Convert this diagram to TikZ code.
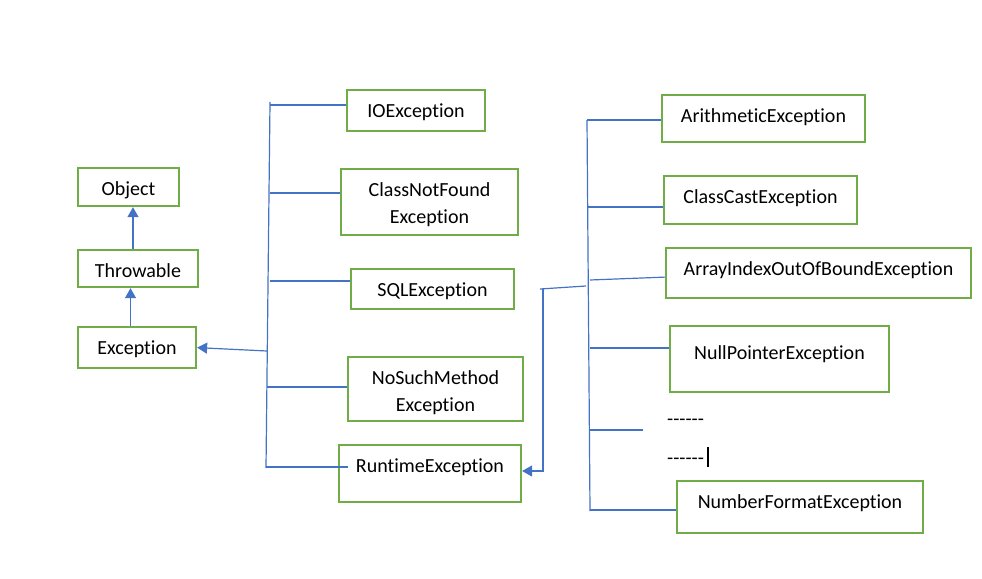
\documentclass[tikz,border=0pt]{standalone}
\usepackage{fontspec}
\setmainfont{Carlito}[Ligatures={TeX,NoCommon}]
\usetikzlibrary{arrows.meta}
\definecolor{boxgreen}{HTML}{70AD47}
\definecolor{lineblue}{HTML}{4472C4}
\tikzset{
  box/.style={draw=boxgreen, line width=2.2pt, inner sep=0pt, anchor=north,
    text height=27pt, font=\fontsize{20}{27}\selectfont},
  conn/.style={draw=lineblue, line width=1.2pt},
  arr/.style={conn, -{Triangle[width=11pt,length=10pt]}},
  plaintext/.style={inner sep=0pt, font=\fontsize{20}{27}\selectfont}
}
\newcommand{\twol}[2]{\begin{tabular}[t]{@{}c@{}}#1\\#2\end{tabular}}
\newcommand{\hy}{\mbox{-}\mbox{-}\mbox{-}\mbox{-}\mbox{-}\mbox{-}}
\begin{document}
\begin{tikzpicture}[x=1pt,y=-1pt]
\useasboundingbox (0,0) rectangle (982,578);
% left column
\node[box, minimum width=101pt, text depth=11pt] (obj) at (128.5,167) {Object};
\node[box, minimum width=120pt, text depth=10pt] (thr) at (138,249) {Throwable};
\node[box, minimum width=118pt, text depth=14pt] (exc) at (137,326) {Exception};
% middle column
\node[box, minimum width=138pt, text depth=14pt] (io) at (416,89) {IOException};
\node[box, minimum width=177pt, text depth=39pt] (cnf) at (429.5,168) {\twol{ClassNotFound}{Exception}};
\node[box, minimum width=163pt, text depth=13pt] (sql) at (432.5,268) {SQLException};
\node[box, minimum width=175pt, text depth=37pt] (nsm) at (435.5,356) {\twol{NoSuchMethod}{Exception}};
\node[box, minimum width=182pt, text depth=30pt] (rt) at (430,444) {RuntimeException};
% right column
\node[box, minimum width=203pt, text depth=20pt] (ar) at (763.5,94) {ArithmeticException};
\node[box, minimum width=193pt, text depth=21pt] (cc) at (760.5,175) {ClassCastException};
\node[box, minimum width=305pt, text depth=23pt] (ai) at (818.5,247) {ArrayIndexOutOfBoundException};
\node[box, minimum width=219pt, text height=33pt, text depth=33pt] (np) at (779.5,325) {NullPointerException};
\node[box, minimum width=246pt, text depth=25pt] (nf) at (800,480) {NumberFormatException};
\node[plaintext, anchor=base west] (d1) at (667,425) {\hy};
\node[plaintext, anchor=base west] (d2) at (667,464) {\hy};
\coordinate (cur1) at (708,447);
\coordinate (cur2) at (708,467);
\draw[black, line width=1.1pt] (cur1) -- (cur2);
% left hierarchy arrows
\coordinate (ax1) at (133,0);
\coordinate (ax2) at (130.5,0);
\draw[arr] (thr.north -| ax1) -- (obj.south -| ax1);
\draw[arr] (exc.north -| ax2) -- (thr.south -| ax2);
% left trunk
\coordinate (lt) at (270,102);
\coordinate (lb) at (266,468);
\draw[conn] (lt) -- (lb);
\coordinate (b1) at (270,105);
\coordinate (b2) at (270,193);
\coordinate (b3) at (270,281);
\coordinate (b4) at (267,387);
\coordinate (b5) at (266,467);
\coordinate (b5e) at (348,467);
\coordinate (b6) at (267,351);
\draw[conn] (b1) -- (b1 -| io.west);
\draw[conn] (b2) -- (b2 -| cnf.west);
\draw[conn] (b3) -- (b3 -| sql.west);
\draw[conn] (b4) -- (b4 -| nsm.west);
\draw[conn] (b5) -- (b5e);
\draw[arr] (b6) -- (exc.east);
% middle connector to RuntimeException
\coordinate (m0) at (586,286);
\coordinate (m1) at (540,289);
\coordinate (m2) at (543,289);
\coordinate (m3) at (543,471);
\draw[conn] (m0) -- (m1);
\draw[arr] (m2) -- (m3) -- (m3 -| rt.east);
% right trunk
\coordinate (rtop) at (587,120);
\coordinate (rbot) at (590,511);
\draw[conn] (rtop) -- (rbot);
\coordinate (r1) at (587,120);
\coordinate (r2) at (588,207);
\coordinate (r3) at (590,280);
\coordinate (r4) at (590,348);
\coordinate (r5) at (590,430);
\coordinate (r5e) at (643,430);
\coordinate (r6) at (590,510);
\draw[conn] (r1) -- (r1 -| ar.west);
\draw[conn] (r2) -- (r2 -| cc.west);
\draw[conn] (r3) -- ([yshift=-4pt]ai.west);
\draw[conn] (r4) -- (r4 -| np.west);
\draw[conn] (r5) -- (r5e);
\draw[conn] (r6) -- (r6 -| nf.west);
\end{tikzpicture}
\end{document}
